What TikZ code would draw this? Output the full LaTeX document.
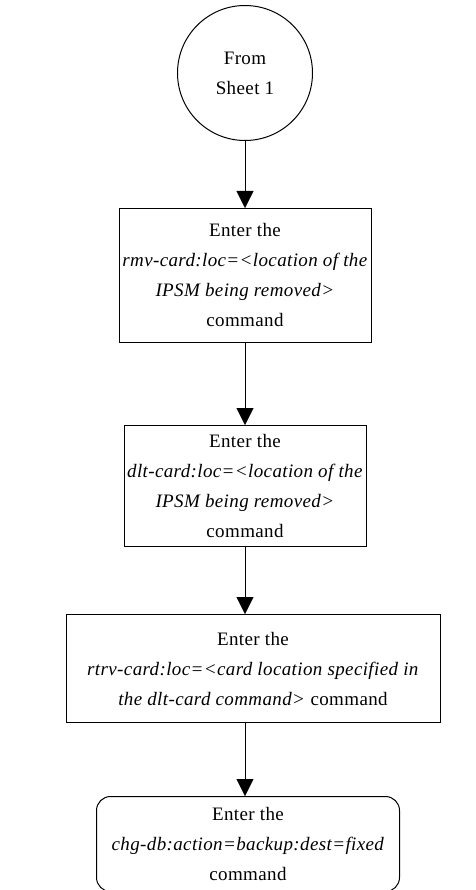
\documentclass[tikz,border=0pt]{standalone}
\usepackage{fontspec}
\setmainfont{Liberation Serif}[LetterSpace=2]
\usetikzlibrary{positioning,arrows.meta}

\begin{document}
\begin{tikzpicture}[x=1pt,y=-1pt,
			>={Triangle[length=17pt,width=17pt]},
			node distance=67pt,
			every node/.style={
				draw,
				line width=1pt,
				align=center,
				inner sep=0pt,
				font=\fontsize{19}{30}\selectfont}]
			
			\useasboundingbox (0,0) rectangle (475,890);
			
			\node (from)[circle,minimum size=135pt] at (245,73){From\\Sheet 1};
			
			\node (rmv)[below=of from,minimum width=252pt,minimum height=134pt]{Enter the\\\textit{rmv-card:loc=<location of the}\\\textit{IPSM being removed>}\\command};
			
			\node (dlt)[below=82pt of rmv,minimum width=242pt,minimum height=121pt]{Enter the\\\textit{dlt-card:loc=<location of the}\\\textit{IPSM being removed>}\\command};
			
			\node (rtrv)[below=of dlt,xshift=8pt,minimum width=374pt,minimum height=108pt]{Enter the\\\textit{rtrv-card:loc=<card location specified in}\\\textit{the dlt-card command>} command};
			
			\node (chgdb)[below=73pt of rtrv,xshift=-5pt,rounded corners=14pt,minimum width=303pt,minimum height=95pt]{Enter the\\\textit{chg-db:action=backup:dest=fixed}\\command};
			
			\draw[->](from)--(rmv);
			
			\draw[->](rmv)--(dlt);
			
			\draw[->](dlt)--(dlt|-rtrv.north);
			
			\draw[->](dlt|-rtrv.south)--(dlt|-chgdb.north);
			
		\end{tikzpicture}
\end{document}
